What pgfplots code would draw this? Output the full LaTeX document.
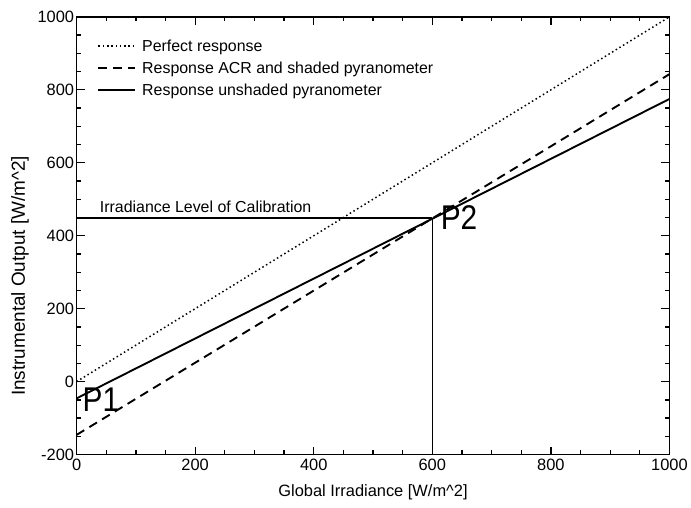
\documentclass[border=0pt]{standalone}
\usepackage{fontspec}
\setmainfont{Liberation Sans}
\usepackage{pgfplots}
\pgfplotsset{compat=1.18}

\begin{document}
\begin{tikzpicture}
\begin{axis}[
  scale only axis,
  width=596pt, height=440pt,
  xmin=0, xmax=1000, ymin=-200, ymax=1000,
  xtick={0,200,...,1000}, ytick={-200,0,...,1000},
  minor x tick num=3, minor y tick num=3,
  tick align=inside,
  major tick length=8pt, minor tick length=4.5pt,
  every tick/.style={line width=1.3pt, black},
  axis line style={line width=1.8pt},
  ticklabel style={font=\fontsize{16.5}{19}\selectfont},
  xticklabel style={yshift=-1pt},
  yticklabel style={xshift=1pt},
  /pgf/number format/assume math mode=true,
  /pgf/number format/1000 sep={},
  xlabel={Global Irradiance [W/m\^{}2]},
  ylabel={Instrumental Output [W/m\^{}2]},
  xlabel style={font=\fontsize{16.5}{19}\selectfont, at={(axis description cs:0.5,-0.085)}, anchor=center},
  ylabel style={font=\fontsize{19}{22}\selectfont, at={(axis description cs:-0.0956,0.408)}, anchor=center},
  legend style={draw=none, fill=none, at={(axis description cs:0.035,0.953)}, anchor=north west,
    font=\fontsize{16}{19}\selectfont, row sep=5pt, inner sep=0pt,
    nodes={inner xsep=6pt}},
  legend cell align=left,
  legend image code/.code={\draw[#1] (0pt,0pt) -- (37pt,0pt);},
  clip=false,
]
\addplot[black, line width=1.5pt, dash pattern=on 1.5pt off 2.8pt] coordinates {(0,0) (1000,1000)};
\addlegendentry{Perfect response}
\addplot[black, line width=1.9pt, dash pattern=on 9pt off 6pt] coordinates {(0,-146) (1000,843)};
\addlegendentry{Response ACR and shaded pyranometer}
\addplot[black, line width=1.9pt] coordinates {(0,-46) (1000,775)};
\addlegendentry{Response unshaded pyranometer}

% calibration level through P2 and the drop line to the x axis
\addplot[black, line width=1.5pt, forget plot] coordinates {(0,448) (600,448)};
\addplot[black, line width=1.5pt, forget plot] coordinates {(600,-200) (600,448)};

\node[anchor=base west, font=\fontsize{16}{19}\selectfont, inner sep=0pt] at (axis cs:39,465) {Irradiance Level of Calibration};
\node[anchor=base west, font=\fontsize{30}{34}\selectfont, inner sep=0pt, yscale=1.15] at (axis cs:614,417) {P2};
\node[anchor=base west, font=\fontsize{30}{34}\selectfont, inner sep=0pt, yscale=1.15] at (axis cs:10,-81) {P1};
\end{axis}
% page frame around the axis and its labels
\path (-77pt,-53pt) rectangle (614pt,457pt);
\end{tikzpicture}
\end{document}
